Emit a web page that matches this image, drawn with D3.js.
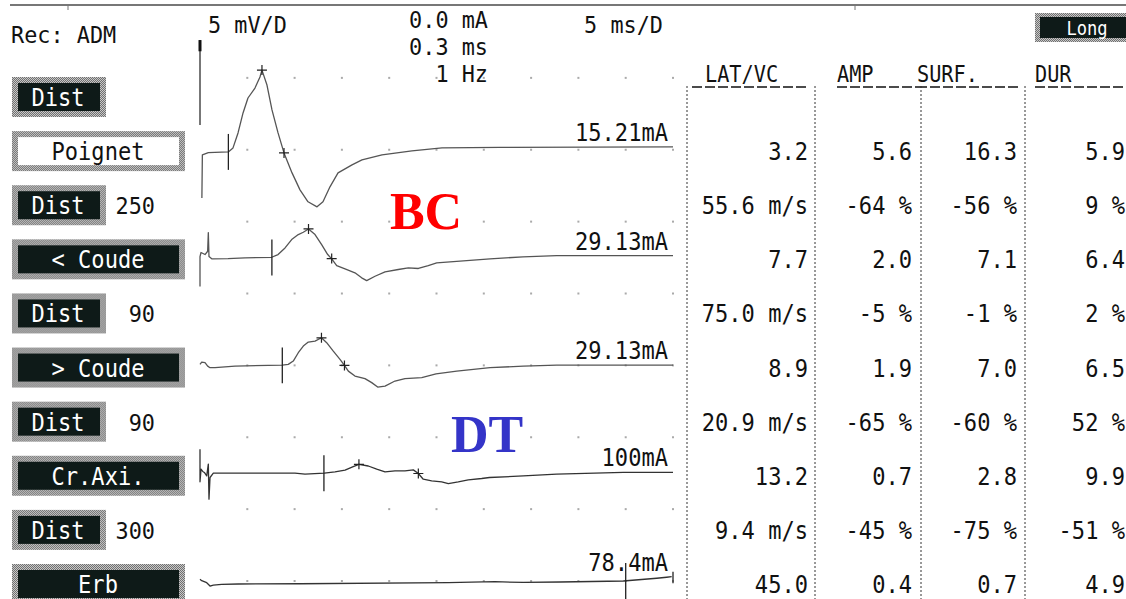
<!DOCTYPE html>
<html>
<head>
<meta charset="utf-8">
<script src="https://cdn.jsdelivr.net/npm/d3@7"></script>
<style>
  html, body { margin: 0; padding: 0; background: #fff; }
  svg { display: block; }
  text { font-family: "DejaVu Sans Mono", monospace; fill: #111; }
</style>
</head>
<body>
<div id="chart"></div>
<script>
// --- header / settings
const recLabel = 'Rec: ADM';
const gainLabel = '5 mV/D';
const stimLabels = ['0.0 mA', '0.3 ms', '1 Hz'];
const sweepLabel = '5 ms/D';
const mvPerDiv = 5;
const msPerDiv = 5;

// --- stimulation sites (left buttons)
const siteNames = ['Poignet', '< Coude', '> Coude', 'Cr.Axi.', 'Erb'];
const segmentDist = ['', '250', '90', '90', '300'];
const intensities = ['15.21mA', '29.13mA', '29.13mA', '100mA', '78.4mA'];

// --- table
const tableHeads = ['LAT/VC', 'AMP', 'SURF.', 'DUR'];
const latCol = ['3.2', '55.6 m/s', '7.7', '75.0 m/s', '8.9', '20.9 m/s', '13.2', '9.4 m/s', '45.0'];
const ampCol = ['5.6', '-64 %', '2.0', '-5 %', '1.9', '-65 %', '0.7', '-45 %', '0.4'];
const surfCol = ['16.3', '-56 %', '7.1', '-1 %', '7.0', '-60 %', '2.8', '-75 %', '0.7'];
const durCol = ['5.9', '9 %', '6.4', '2 %', '6.5', '52 %', '9.9', '-51 %', '4.9'];

// --- grid (ms columns, division rows)
const gridCols = [5, 10, 15, 20, 25, 30, 35, 40, 45, 50];
const gridRows = [1, 2, 3, 4, 5, 6, 7, 8];
const traceBase = [2.03, 3.5, 5.0, 6.5, 8.0]; // baseline of each trace, in divisions

// --- traces [ms, mV]
const trace1 = [[0.2, -3.2], [0.25, -0.2], [0.88, -0.05], [2.99, 0.0], [3.49, 0.28], [4.02, 1.32], [4.55, 2.71],
  [5.07, 3.75], [5.81, 4.44], [6.34, 5.21], [6.55, 5.69], [7.08, 4.65], [7.61, 2.92], [8.25, 1.32], [8.88, -0.07],
  [9.73, -1.46], [10.57, -2.64], [11.42, -3.47], [12.37, -3.82], [13.0, -3.47], [13.74, -2.43], [14.59, -1.46],
  [16.07, -0.9], [17.12, -0.56], [19.24, -0.21], [22.4, 0.07], [25.58, 0.28], [31.7, 0.31], [50, 0.35]];
const trace2 = [[0, -2.01], [0, 0.07], [0.11, 0.35], [0.53, 0.21], [0.81, 0.44], [0.88, 1.74], [0.95, 0.07],
  [1.24, -0.09], [2.96, -0.07], [4.76, -0.02], [7.58, 0.02], [8.25, 0.21], [8.99, 0.67], [9.69, 1.25], [10.39, 1.6],
  [10.92, 1.76], [11.47, 1.99], [12.16, 1.6], [12.86, 0.9], [13.5, 0.21], [13.92, -0.09], [14.45, -0.56],
  [15.33, -0.78], [16.38, -1.06], [17.09, -1.41], [17.62, -1.6], [18.5, -1.3], [19.56, -0.99], [20.96, -0.83],
  [22.02, -0.72], [23.08, -0.76], [24.13, -0.56], [25.02, -0.37], [30.66, -0.09], [34.14, 0.05], [37.7, 0.14], [50, 0.14]];
const trace3 = [[0, 0.07], [0.18, 0.23], [0.53, 0.19], [0.81, -0.05], [1.06, -0.16], [1.59, -0.16], [3.7, -0.05],
  [8.7, 0.02], [9.33, 0.07], [9.86, 0.3], [10.39, 0.88], [10.92, 1.34], [11.45, 1.62], [12.16, 1.69], [12.84, 1.92],
  [13.39, 1.58], [14.09, 0.99], [14.8, 0.42], [15.27, 0], [15.68, -0.4], [16.38, -0.74], [17.44, -0.92],
  [18.15, -1.2], [18.78, -1.51], [19.56, -1.44], [20.61, -1.09], [21.67, -0.92], [23.44, -0.85], [24.95, -0.59],
  [27.14, -0.4], [30.66, -0.16], [34.18, -0.05], [37.7, 0.02], [50, 0.02]];
const trace4 = [[0, 1.67], [0, -0.6], [0.11, 0.28], [0.29, 0.12], [0.46, 0.05], [0.71, -0.19], [0.88, 0.63],
  [0.95, -1.81], [1.06, -0.3], [1.41, 0], [3.0, 0], [10.04, 0], [11.1, -0.07], [13.14, 0], [14.27, 0.09],
  [15.33, 0.21], [16.2, 0.46], [16.8, 0.62], [17.79, 0.5], [18.68, 0.28], [19.56, 0.09], [20.61, 0.16],
  [21.67, 0.16], [22.55, 0.23], [23.08, -0.02], [23.6, -0.42], [24.49, -0.53], [25.55, -0.6], [26.25, -0.72],
  [27.3, -0.6], [28.36, -0.46], [29.78, -0.37], [30.6, -0.3], [34.18, -0.19], [37.7, -0.07], [44.75, 0.05], [50, 0.05]];
const trace5 = [[0, 0.12], [0.18, 0.02], [0.71, -0.12], [1.06, -0.35], [1.41, -0.28], [2.29, -0.23], [4.05, -0.21],
  [10.57, -0.19], [26.25, -0.12], [31.18, -0.05], [34.18, -0.1], [38.05, -0.07], [44.75, 0], [48.28, 0.19],
  [49.33, 0.26], [49.86, 0.3]];
const traces = [trace1, trace2, trace3, trace4, trace5];

// --- cursors: onset (vertical) and "+" markers [ms, mV]
const onsetMs = [3.0, 7.6, 8.7, 13.1, 45.0];
const plusMarks = [
  [[6.55, 5.69], [8.88, -0.07]],
  [[11.47, 1.99], [13.92, -0.07]],
  [[12.84, 1.92], [15.27, 0]],
  [[16.8, 0.62], [23.08, -0.02]],
  []
];

const W = 1126, H = 599;
const svg = d3.select('#chart').append('svg').attr('width', W).attr('height', H);
svg.append('rect').attr('width', W).attr('height', H).attr('fill', '#fff');

// screen font is tall and narrow: mono glyphs squeezed a little horizontally
function label(g, px, py, str, anchor, size, sx) {
  return g.append('text')
    .attr('transform', `translate(${px},${py}) scale(${sx || 0.92},1)`)
    .attr('text-anchor', anchor || 'start')
    .attr('font-size', size || 24)
    .text(str);
}

const defs = svg.append('defs');
const pat = defs.append('pattern').attr('id', 'hatch').attr('width', 2).attr('height', 2)
  .attr('patternUnits', 'userSpaceOnUse');
pat.append('rect').attr('width', 2).attr('height', 2).attr('fill', '#c8c8c8');
pat.append('rect').attr('width', 1).attr('height', 1).attr('fill', '#707070');
pat.append('rect').attr('x', 1).attr('y', 1).attr('width', 1).attr('height', 1).attr('fill', '#707070');

// top frame line
svg.append('line').attr('x1', 10).attr('x2', W).attr('y1', 5).attr('y2', 5)
  .attr('stroke', '#777').attr('stroke-width', 2);
[68, 855].forEach(px => svg.append('line').attr('x1', px).attr('x2', px).attr('y1', 5).attr('y2', 10)
  .attr('stroke', '#777').attr('stroke-width', 1));

// scales
const x = d3.scaleLinear().domain([0, 10 * msPerDiv]).range([200, 673]);
const yDiv = d3.scaleLinear().domain([0, 8]).range([6, 581]);
const yTrace = traceBase.map(b => d3.scaleLinear().domain([0, mvPerDiv]).range([yDiv(b), yDiv(b - 1)]));
const rowY = d3.scaleLinear().domain([0, 9]).range([97, 584]);

// grid dots
const dots = [];
gridRows.forEach(r => gridCols.forEach(c => dots.push([c, r])));
svg.append('g').selectAll('rect').data(dots).join('rect')
  .attr('x', d => x(d[0]) - 1).attr('y', d => yDiv(d[1]) - 1)
  .attr('width', 2).attr('height', 2).attr('fill', '#aaa');

// header texts
const hdr = svg.append('g');
label(hdr, 11, 43, recLabel, 'start', 23, 0.95);
label(hdr, 208, 33, gainLabel, 'start', 23, 0.95);
stimLabels.forEach((s, i) => label(hdr, 488, 28 + i * 27, s, 'end', 23, 0.95));
label(hdr, 663, 33, sweepLabel, 'end', 23, 0.95);

// calibration bar
svg.append('line').attr('x1', x(0)).attr('x2', x(0)).attr('y1', yTrace[0](7.78)).attr('y2', yTrace[0](1.87))
  .attr('stroke', '#777').attr('stroke-width', 2);
svg.append('line').attr('x1', x(0)).attr('x2', x(0)).attr('y1', yTrace[0](7.78)).attr('y2', yTrace[0](7.0))
  .attr('stroke', '#111').attr('stroke-width', 3);

// traces
const tracesG = svg.append('g');
traces.forEach((tr, i) => {
  const line = d3.line().x(d => x(d[0])).y(d => yTrace[i](d[1]));
  tracesG.append('path').datum(tr).attr('d', line)
    .attr('fill', 'none').attr('stroke', i >= 3 ? '#333' : '#555').attr('stroke-width', 1.3)
    .attr('stroke-linejoin', 'round');
  // onset cursor
  tracesG.append('line').attr('x1', x(onsetMs[i])).attr('x2', x(onsetMs[i]))
    .attr('y1', yTrace[i](1.25)).attr('y2', yTrace[i](-1.25))
    .attr('stroke', '#222').attr('stroke-width', 1.3);
  // + markers
  plusMarks[i].forEach(p => {
    const px = x(p[0]), py = yTrace[i](p[1]);
    tracesG.append('path').attr('d', `M${px - 5},${py}H${px + 5}M${px},${py - 5}V${py + 5}`)
      .attr('stroke', '#222').attr('stroke-width', 1.2);
  });
  // stimulus intensity
  const last = tr[tr.length - 1];
  label(tracesG, 668, yTrace[i](last[1]) - 6, intensities[i], 'end');
});
// end tick on last trace
tracesG.append('line').attr('x1', x(50)).attr('x2', x(50))
  .attr('y1', yTrace[4](0.65)).attr('y2', yTrace[4](-0.16)).attr('stroke', '#222').attr('stroke-width', 1.3);

// left buttons
const buttons = [];
siteNames.forEach((s, i) => {
  buttons.push({ row: 2 * i, label: 'Dist', num: segmentDist[i], wide: false, white: false });
  buttons.push({ row: 2 * i + 1, label: s, wide: true, white: i === 0 });
});
const btnLayer = svg.append('g');
buttons.forEach(d => {
  const g = btnLayer.append('g').attr('transform', `translate(12,${rowY(d.row) - 20})`);
  g.append('rect').attr('width', d.wide ? 173 : 94).attr('height', 40).attr('fill', 'url(#hatch)');
  g.append('rect').attr('x', 6).attr('y', 6).attr('width', d.wide ? 161 : 82).attr('height', 28)
    .attr('fill', d.white ? '#fff' : '#0e1a18');
  label(g, d.wide ? 86 : 46, 29, d.label, 'middle', 24, 0.92)
    .style('fill', d.white ? '#111' : '#fff');
  if (d.num) label(g, 143, 29, d.num, 'end', 23, 0.95);
});

// "Long" button
const longG = svg.append('g').attr('transform', 'translate(1035,13)');
longG.append('rect').attr('width', 95).attr('height', 29).attr('fill', 'url(#hatch)');
longG.append('rect').attr('x', 5).attr('y', 4).attr('width', 95).attr('height', 21).attr('fill', '#0e1a18');
label(longG, 52, 22, 'Long', 'middle', 19, 0.9).style('fill', '#fff');

// table
const colDefs = [
  { head: tableHeads[0], hx: 705, u0: 692, u1: 808, right: 808, sep: 687, vals: latCol },
  { head: tableHeads[1], hx: 837, u0: 837, u1: 917, right: 912, sep: 815, vals: ampCol },
  { head: tableHeads[2], hx: 917, u0: 917, u1: 1020, right: 1017, sep: 921, vals: surfCol },
  { head: tableHeads[3], hx: 1035, u0: 1035, u1: 1126, right: 1125, sep: 1025, vals: durCol }
];
const tab = svg.append('g');
colDefs.forEach(c => {
  label(tab, c.hx, 82, c.head, 'start', 23, 0.88);
  tab.append('line').attr('x1', c.u0).attr('x2', c.u1).attr('y1', 87).attr('y2', 87)
    .attr('stroke', '#111').attr('stroke-width', 1.5).attr('stroke-dasharray', '10,3');
  tab.append('line').attr('x1', c.sep).attr('x2', c.sep).attr('y1', 86).attr('y2', H)
    .attr('stroke', '#333').attr('stroke-width', 1).attr('stroke-dasharray', '2,2');
  c.vals.forEach((v, i) => label(tab, c.right, rowY(i + 1) + 9, v, 'end'));
});

// annotations
svg.append('text').attr('x', 426).attr('y', 229).attr('text-anchor', 'middle')
  .style('font-family', '"Liberation Serif", serif').style('font-weight', 'bold').attr('font-size', 52)
  .style('fill', '#f00').text('BC');
svg.append('text').attr('x', 487).attr('y', 452).attr('text-anchor', 'middle')
  .style('font-family', '"Liberation Serif", serif').style('font-weight', 'bold').attr('font-size', 52)
  .style('fill', '#3434c8').text('DT');
</script>
</body>
</html>
